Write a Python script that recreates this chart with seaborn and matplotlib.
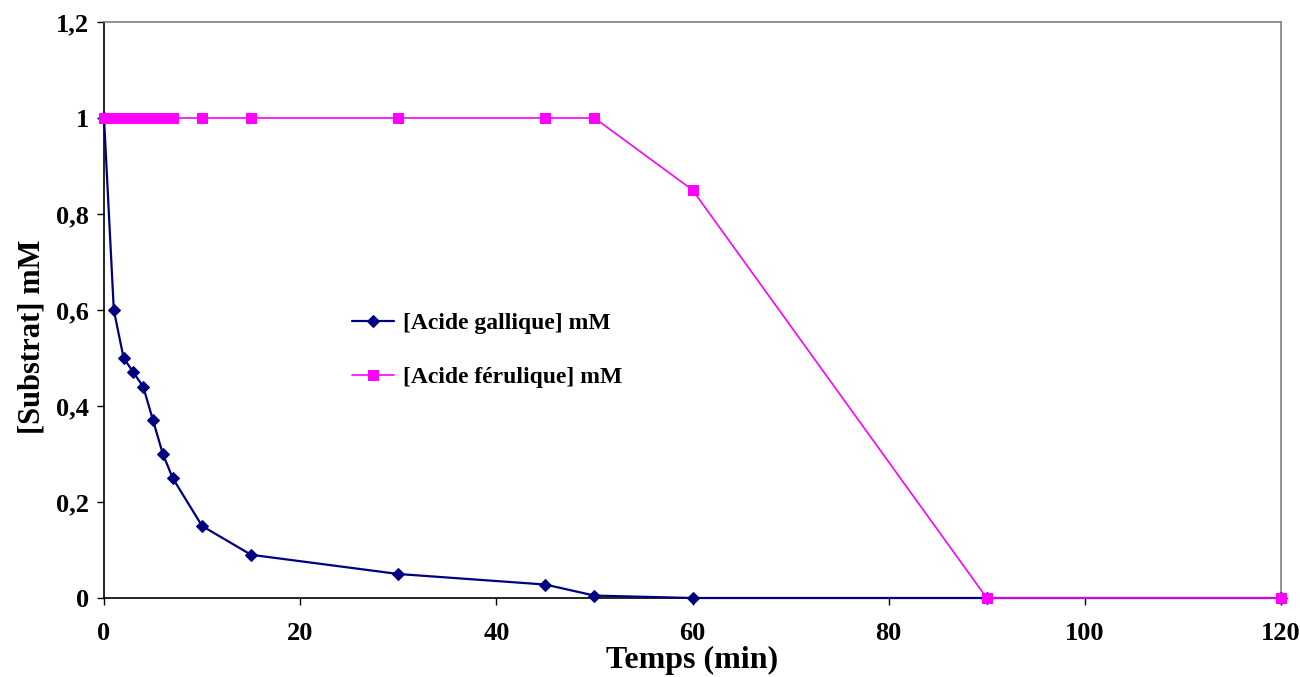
import matplotlib
matplotlib.use("Agg")
import matplotlib.pyplot as plt
import seaborn as sns
import pandas as pd
from matplotlib.ticker import FuncFormatter, MultipleLocator

time_min = [0, 1, 2, 3, 4, 5, 6, 7, 10, 15, 30, 45, 50, 60, 90, 120]
gallique = [1.0, 0.60, 0.50, 0.47, 0.44, 0.37, 0.30, 0.25, 0.15, 0.09, 0.05, 0.028, 0.005, 0.0, 0.0, 0.0]
ferulique = [1.0, 1.0, 1.0, 1.0, 1.0, 1.0, 1.0, 1.0, 1.0, 1.0, 1.0, 1.0, 1.0, 0.85, 0.0, 0.0]
label_g = "[Acide gallique] mM"
label_f = "[Acide férulique] mM"

sns.set_style("white")
plt.rcParams['font.family'] = ['Liberation Serif', 'DejaVu Serif']
plt.rcParams['font.weight'] = 'bold'
plt.rcParams['text.color'] = 'black'
plt.rcParams['axes.labelcolor'] = 'black'
plt.rcParams['xtick.color'] = 'black'
plt.rcParams['ytick.color'] = 'black'

fig = plt.figure(figsize=(13, 6.77), dpi=100)
ax = fig.add_axes([0.08, 0.1167, 0.9054, 0.8508])

df = pd.DataFrame({"t": time_min, "g": gallique, "f": ferulique})
sns.lineplot(data=df, x="t", y="g", ax=ax, color="#000080", marker="D", markersize=6.5,
             markeredgecolor="#000080", linewidth=1.6, label=label_g, zorder=3, clip_on=False)
sns.lineplot(data=df, x="t", y="f", ax=ax, color="#FF00FF", marker="s", markersize=6.5,
             markeredgecolor="#FF00FF", linewidth=1.2, label=label_f, zorder=4, clip_on=False)

ax.set_xlim(0, 120)
ax.set_ylim(0, 1.2)
ax.xaxis.set_major_locator(MultipleLocator(20))
ax.yaxis.set_major_locator(MultipleLocator(0.2))
fmt = FuncFormatter(lambda v, p: f"{v:g}".replace('.', ','))
ax.yaxis.set_major_formatter(fmt)
ax.xaxis.set_major_formatter(FuncFormatter(lambda v, p: f"{v:g}"))
ax.tick_params(axis='both', direction='out', length=5, width=1, color='black',
               labelsize=19, bottom=True, left=True, labelcolor='black')
ax.tick_params(axis='x', pad=12)
ax.tick_params(axis='y', pad=6)
for lab in ax.get_xticklabels() + ax.get_yticklabels():
    lab.set_fontweight('bold')

for s in ['top', 'right']:
    ax.spines[s].set_color('#808080')
    ax.spines[s].set_linewidth(1.2)
for s in ['left', 'bottom']:
    ax.spines[s].set_color('black')
    ax.spines[s].set_linewidth(1.2)

ax.set_xlabel("Temps (min)", fontsize=23, fontweight='bold')
ax.set_ylabel("[Substrat] mM", fontsize=22, fontweight='bold')
ax.xaxis.set_label_coords(0.5, -0.083)
ax.yaxis.set_label_coords(-0.049, 0.453)

leg = ax.legend(loc='center left', bbox_to_anchor=(0.2107, 0.43), frameon=False,
                fontsize=17, handlelength=1.8, handletextpad=0.35, labelspacing=1.35,
                borderaxespad=0, borderpad=0)
for t in leg.get_texts():
    t.set_fontweight('bold')
    t.set_color('black')

fig.savefig("out.png", dpi=100)
